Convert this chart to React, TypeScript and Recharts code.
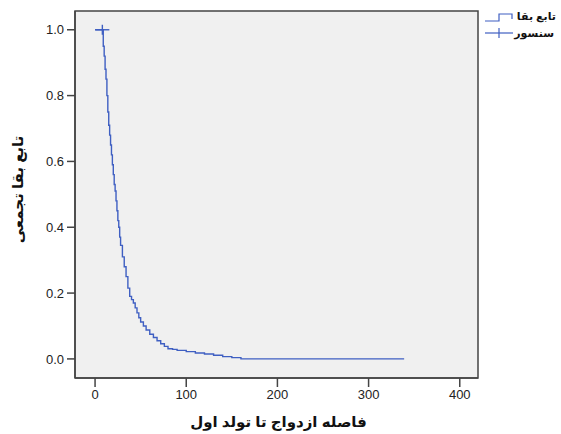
import {
  ComposedChart,
  Line,
  XAxis,
  YAxis,
  ReferenceArea,
  Label,
} from 'recharts'

const times = [
  0, 8, 9, 10, 11, 12, 13, 14, 15, 16, 17, 18, 19, 20, 21, 22, 23, 24, 25, 26,
  27, 28, 30, 32, 34, 36, 38, 40, 42, 44, 46, 48, 50, 53, 56, 60, 64, 68, 72,
  76, 80, 85, 90, 100, 110, 120, 130, 140, 150, 160, 223, 339,
]
const survival = [
  1.0, 1.0, 0.95, 0.92, 0.88, 0.85, 0.8, 0.75, 0.71, 0.68, 0.65, 0.62, 0.59,
  0.56, 0.53, 0.51, 0.48, 0.45, 0.42, 0.4, 0.37, 0.345, 0.31, 0.28, 0.25, 0.215,
  0.19, 0.18, 0.17, 0.155, 0.14, 0.125, 0.112, 0.1, 0.088, 0.075, 0.065, 0.055,
  0.046, 0.038, 0.031, 0.029, 0.026, 0.022, 0.018, 0.015, 0.011, 0.007, 0.004,
  0.0, 0.0, 0.0,
]
const censoredAt = [8]

const xTicks = [0, 100, 200, 300, 400]
const yTicks = [0, 0.2, 0.4, 0.6, 0.8, 1.0]

const xDomain = [-22, 420]
const yDomain = [-0.058, 1.057]

const legendItems = ['تابع بقا', 'سنسور']

const data = times.map((t, i) => ({
  time: t,
  survival: survival[i],
  censored: censoredAt.includes(t),
}))

const BLUE = '#3f5fc2'
const AXIS = '#444'
const FONT = '"Liberation Sans", "DejaVu Sans", Arial, sans-serif'

function CensorDot(props: any) {
  const { cx, cy, payload, index } = props
  if (!payload || !payload.censored) return <g key={`d-${index}`} />
  return (
    <g key={`d-${index}`} stroke={BLUE} strokeWidth={1.4}>
      <line x1={cx - 7} x2={cx + 7} y1={cy} y2={cy} />
      <line x1={cx} x2={cx} y1={cy - 5} y2={cy + 5} />
    </g>
  )
}

// legend drawn as an overlay so it doesn't steal room from the plot
function SurvivalLegend() {
  const textStyle = {
    fontSize: 11,
    fontWeight: 'bold' as const,
    fontFamily: FONT,
    fill: '#111',
  }
  return (
    <svg
      width={80}
      height={44}
      style={{ position: 'absolute', left: 482, top: 0, display: 'block' }}
    >
      <path d="M3 21 H17 V14 H30 V19" fill="none" stroke={BLUE} strokeWidth={1.2} />
      <text x={74} y={20} textAnchor="end" {...textStyle}>
        {legendItems[0]}
      </text>
      <line x1={3} x2={31} y1={33} y2={33} stroke={BLUE} strokeWidth={1.2} />
      <line x1={17} x2={17} y1={28} y2={38} stroke={BLUE} strokeWidth={1.2} />
      <text x={72} y={37} textAnchor="end" {...textStyle}>
        {legendItems[1]}
      </text>
    </svg>
  )
}

export default function App() {
  return (
    <div style={{ position: 'absolute', left: 0, top: 0, background: '#fff' }}>
      <ComposedChart
        width={561}
        height={434}
        data={data}
        margin={{ top: 11, right: 83, left: 0, bottom: 0 }}
      >
        <XAxis
          dataKey="time"
          type="number"
          domain={xDomain}
          ticks={xTicks}
          allowDataOverflow={true}
          height={56}
          tickSize={9}
          tickMargin={3}
          axisLine={{ stroke: AXIS, strokeWidth: 1.5 }}
          tickLine={{ stroke: AXIS, strokeWidth: 1.5 }}
          tick={{ fontSize: 13, fill: '#222', fontFamily: FONT }}
        >
          <Label
            value="فاصله ازدواج تا تولد اول"
            position="insideBottom"
            offset={7}
            dx={2}
            style={{ fontSize: 15, fontWeight: 'bold', fill: '#111', fontFamily: FONT }}
          />
        </XAxis>
        <YAxis
          type="number"
          domain={yDomain}
          ticks={yTicks}
          allowDataOverflow={true}
          width={75}
          tickSize={8}
          tickMargin={3}
          tickFormatter={(v: number) => v.toFixed(1)}
          axisLine={{ stroke: AXIS, strokeWidth: 1.5 }}
          tickLine={{ stroke: AXIS, strokeWidth: 1.5 }}
          tick={{ fontSize: 13, fill: '#222', fontFamily: FONT }}
        >
          <Label
            value="تابع بقا تجمعی"
            angle={-90}
            position="insideLeft"
            offset={18}
            dy={-5}
            style={{
              fontSize: 15,
              fontWeight: 'bold',
              fill: '#111',
              fontFamily: FONT,
              textAnchor: 'middle',
            }}
          />
        </YAxis>
        <ReferenceArea
          x1={xDomain[0]}
          x2={xDomain[1]}
          y1={yDomain[0]}
          y2={yDomain[1]}
          fill="#f0f0f0"
          fillOpacity={1}
          stroke={AXIS}
          strokeWidth={1.5}
        />
        <Line
          dataKey="survival"
          type="stepAfter"
          stroke={BLUE}
          strokeWidth={1.4}
          dot={CensorDot}
          activeDot={false}
          isAnimationActive={false}
        />
      </ComposedChart>
      <SurvivalLegend />
    </div>
  )
}
